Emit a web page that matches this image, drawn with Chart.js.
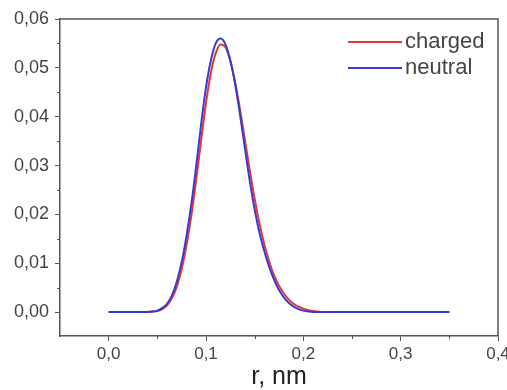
<!DOCTYPE html>
<html>
<head>
<meta charset="UTF-8">
<title>charged / neutral</title>
<script src="https://cdn.jsdelivr.net/npm/chart.js"></script>
<style>
  html, body { margin: 0; padding: 0; background: #fff; }
  #wrap { width: 507px; height: 390px; position: relative; }
</style>
</head>
<body>
<div id="wrap"><canvas id="c"></canvas></div>
<script>
// r, nm
const rValues = [0, 0.02, 0.04, 0.045, 0.05, 0.055, 0.06, 0.065, 0.07, 0.075, 0.08, 0.085,
  0.09, 0.095, 0.1, 0.105, 0.11, 0.115, 0.12, 0.125, 0.13, 0.135, 0.14, 0.145, 0.15,
  0.155, 0.16, 0.165, 0.17, 0.175, 0.18, 0.185, 0.19, 0.195, 0.2, 0.205, 0.21, 0.215,
  0.22, 0.25, 0.3, 0.35];
const neutral = [0, 0, 0, 0.0001, 0.0003, 0.0008, 0.0017, 0.0034, 0.0062, 0.0102, 0.0156, 0.0222,
  0.0300, 0.0385, 0.0460, 0.0515, 0.0550, 0.0560, 0.0548, 0.0515, 0.0466, 0.0404, 0.0335, 0.0268, 0.0210,
  0.0162, 0.0124, 0.0092, 0.0066, 0.0045, 0.0030, 0.0019, 0.0011, 0.0006, 0.0003, 0.0001, 0, 0,
  0, 0, 0, 0];
const charged = [0, 0, 0, 0.0001, 0.0002, 0.0006, 0.0014, 0.0028, 0.0052, 0.0088, 0.0137, 0.0198,
  0.0272, 0.0352, 0.0428, 0.0490, 0.0530, 0.0548, 0.0542, 0.0514, 0.0470, 0.0414, 0.0352, 0.0290, 0.0232,
  0.0181, 0.0138, 0.0103, 0.0075, 0.0054, 0.0038, 0.0026, 0.0017, 0.0011, 0.0007, 0.0004, 0.0002, 0.0001,
  0, 0, 0, 0];
const xTicks = [0, 0.1, 0.2, 0.3, 0.4];
const yTicks = [0, 0.01, 0.02, 0.03, 0.04, 0.05, 0.06];
const xMinor = [0.05, 0.15, 0.25, 0.35];
const yMinor = [0.005, 0.015, 0.025, 0.035, 0.045, 0.055];

const axisColor = '#555';
const textColor = '#444';
const family = '"Liberation Sans", Arial, sans-serif';

// box on top/right + minor ticks + legend in the upper right corner
const decor = {
  id: 'decor',
  afterDraw(chart) {
    const ctx = chart.ctx, a = chart.chartArea;
    const xs = chart.scales.x, ys = chart.scales.y;
    ctx.save();
    ctx.strokeStyle = axisColor;
    ctx.lineWidth = 1.5;
    ctx.beginPath();
    ctx.moveTo(a.left, a.top); ctx.lineTo(a.right, a.top); ctx.lineTo(a.right, a.bottom);
    ctx.stroke();
    ctx.lineWidth = 1;
    ctx.beginPath();
    xMinor.forEach(v => {
      const p = Math.round(xs.getPixelForValue(v)) + 0.5;
      ctx.moveTo(p, a.bottom); ctx.lineTo(p, a.bottom + 3);
    });
    yMinor.forEach(v => {
      const p = Math.round(ys.getPixelForValue(v)) + 0.5;
      ctx.moveTo(a.left - 3, p); ctx.lineTo(a.left, p);
    });
    ctx.stroke();

    // legend
    const items = [chart.data.datasets[1], chart.data.datasets[0]];
    ctx.font = '22px ' + family;
    ctx.textBaseline = 'middle';
    ctx.textAlign = 'left';
    items.forEach((ds, i) => {
      const y = a.top + 23 + i * 26;
      ctx.strokeStyle = ds.borderColor;
      ctx.lineWidth = 2;
      ctx.beginPath();
      ctx.moveTo(a.right - 150, y); ctx.lineTo(a.right - 96, y);
      ctx.stroke();
      ctx.fillStyle = textColor;
      ctx.fillText(ds.label, a.right - 93, y);
    });
    ctx.restore();
  }
};

const fmt = (v, d) => v.toFixed(d).replace('.', ',');

new Chart(document.getElementById('c'), {
  type: 'line',
  data: {
    datasets: [
      {
        label: 'neutral',
        data: rValues.map((r, i) => ({ x: r, y: neutral[i] })),
        borderColor: '#3a3ad0',
        borderWidth: 2,
        pointRadius: 0,
        cubicInterpolationMode: 'monotone',
        fill: false
      },
      {
        label: 'charged',
        data: rValues.map((r, i) => ({ x: r, y: charged[i] })),
        borderColor: '#e0383a',
        borderWidth: 2,
        pointRadius: 0,
        cubicInterpolationMode: 'monotone',
        fill: false
      }
    ]
  },
  options: {
    responsive: true,
    maintainAspectRatio: false,
    animation: false,
    layout: { padding: { top: 19, right: 9, left: 0, bottom: 0 } },
    plugins: { legend: { display: false }, tooltip: { enabled: false } },
    scales: {
      x: {
        type: 'linear',
        min: -0.05,
        max: 0.4,
        afterBuildTicks: s => { s.ticks = xTicks.map(v => ({ value: v })); },
        afterFit: s => { s.height = 54; s.paddingLeft = 0; s.paddingRight = 0; },
        ticks: {
          color: textColor,
          font: { family, size: 17, lineHeight: 1 },
          padding: 5,
          maxRotation: 0,
          autoSkip: false,
          callback: v => fmt(v, 1)
        },
        grid: { drawOnChartArea: false, drawTicks: true, tickLength: 5, color: axisColor, tickWidth: 1 },
        border: { display: true, color: axisColor, width: 1.5 },
        title: {
          display: true,
          text: 'r, nm',
          color: '#222',
          font: { family, size: 25, lineHeight: 1 },
          padding: { top: 0, bottom: 0 }
        }
      },
      y: {
        min: -0.0049,
        max: 0.06,
        afterBuildTicks: s => { s.ticks = yTicks.map(v => ({ value: v })); },
        afterFit: s => { s.width = 60; s.paddingTop = 0; s.paddingBottom = 0; },
        ticks: {
          color: textColor,
          font: { family, size: 18, lineHeight: 1 },
          padding: 6,
          autoSkip: false,
          callback: v => fmt(v, 2)
        },
        grid: { drawOnChartArea: false, drawTicks: true, tickLength: 5, color: axisColor, tickWidth: 1 },
        border: { display: true, color: axisColor, width: 1.5 }
      }
    }
  },
  plugins: [decor]
});
</script>
</body>
</html>
